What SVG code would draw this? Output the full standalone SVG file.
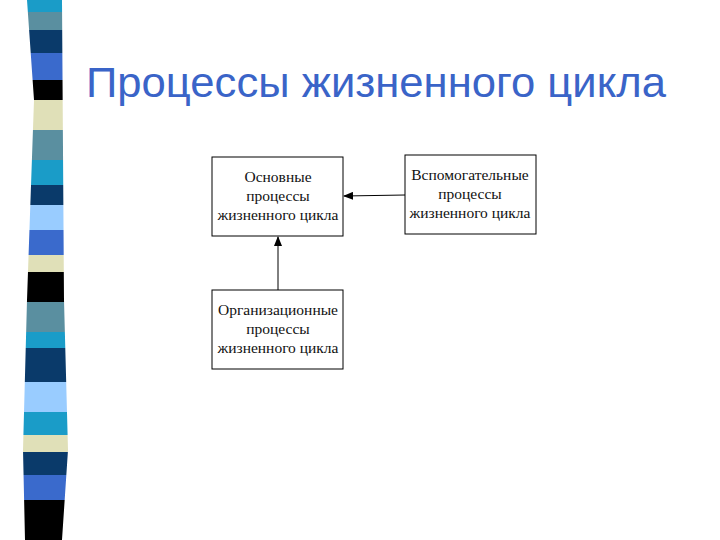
<svg xmlns="http://www.w3.org/2000/svg" width="720" height="540" viewBox="0 0 720 540">
<style>
.box{fill:#fff;stroke:#000;stroke-width:1}
.t{font-family:"Liberation Serif",serif;font-size:15.5px;fill:#111;text-anchor:middle}
.c{stroke:#000;stroke-width:1;fill:none;marker-end:url(#a)}
</style>
<defs>
<marker id="a" markerWidth="10" markerHeight="8" refX="9" refY="4" orient="auto" markerUnits="userSpaceOnUse"><path d="M0,0 L10,4 L0,8 Z" fill="#000"/></marker>
<clipPath id="s"><polygon points="27,0 62,0 64,300 68,450 62,540 25,540 23,450 27,300 34,100"/></clipPath>
</defs>
<rect width="720" height="540" fill="#fff"/>
<g clip-path="url(#s)">
<rect x="0" y="0" width="80" height="12" fill="#1a9cc8"/>
<rect x="0" y="12" width="80" height="18" fill="#5a8fa0"/>
<rect x="0" y="30" width="80" height="23" fill="#0a3a6a"/>
<rect x="0" y="53" width="80" height="27" fill="#3a6acc"/>
<rect x="0" y="80" width="80" height="20" fill="#000"/>
<rect x="0" y="100" width="80" height="30" fill="#e0e0b8"/>
<rect x="0" y="130" width="80" height="30" fill="#5a8fa0"/>
<rect x="0" y="160" width="80" height="25" fill="#1a9cc8"/>
<rect x="0" y="185" width="80" height="20" fill="#0a3a6a"/>
<rect x="0" y="205" width="80" height="25" fill="#99ccff"/>
<rect x="0" y="230" width="80" height="25" fill="#3a6acc"/>
<rect x="0" y="255" width="80" height="17" fill="#e0e0b8"/>
<rect x="0" y="272" width="80" height="30" fill="#000"/>
<rect x="0" y="302" width="80" height="30" fill="#5a8fa0"/>
<rect x="0" y="332" width="80" height="16" fill="#1a9cc8"/>
<rect x="0" y="348" width="80" height="34" fill="#0a3a6a"/>
<rect x="0" y="382" width="80" height="30" fill="#99ccff"/>
<rect x="0" y="412" width="80" height="23" fill="#1a9cc8"/>
<rect x="0" y="435" width="80" height="17" fill="#e0e0b8"/>
<rect x="0" y="452" width="80" height="23" fill="#0a3a6a"/>
<rect x="0" y="475" width="80" height="25" fill="#3a6acc"/>
<rect x="0" y="500" width="80" height="40" fill="#000"/>
</g>
<text x="86" y="97" font-family="Liberation Sans,sans-serif" font-size="42" textLength="580" lengthAdjust="spacingAndGlyphs" fill="#3a64c8">Процессы жизненного цикла</text>
<g id="connectors">
<line class="c" x1="405" y1="195" x2="344" y2="196"/>
<line class="c" x1="278" y1="290" x2="278" y2="237"/>
</g>
<g id="n1"><rect class="box" x="212" y="157" width="131" height="79"/>
<text class="t" x="278" y="182">Основные</text><text class="t" x="278" y="201">процессы</text><text class="t" x="278" y="220">жизненного цикла</text></g>
<g id="n2"><rect class="box" x="405" y="155" width="131" height="79"/>
<text class="t" x="470" y="180">Вспомогательные</text><text class="t" x="470" y="199">процессы</text><text class="t" x="470" y="218">жизненного цикла</text></g>
<g id="n3"><rect class="box" x="212" y="290" width="131" height="79"/>
<text class="t" x="278" y="315">Организационные</text><text class="t" x="278" y="334">процессы</text><text class="t" x="278" y="353">жизненного цикла</text></g>
</svg>
